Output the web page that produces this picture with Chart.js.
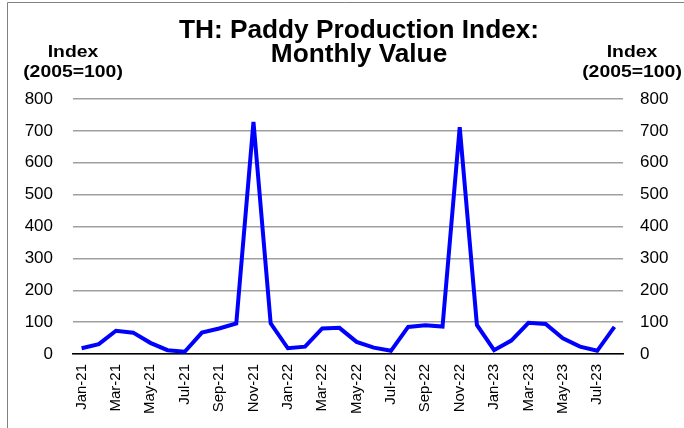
<!DOCTYPE html>
<html>
<head>
<meta charset="utf-8">
<script src="https://cdn.jsdelivr.net/npm/chart.js@4/dist/chart.umd.min.js"></script>
<style>
  html, body { margin: 0; padding: 0; background: #fff; }
  #wrap { width: 684px; height: 428px; position: relative; }
</style>
</head>
<body>
<div id="wrap"><canvas id="paddy-chart" width="684" height="428"></canvas></div>
<script>
const months = [
  'Jan-21', 'Feb-21', 'Mar-21', 'Apr-21', 'May-21', 'Jun-21', 'Jul-21', 'Aug-21',
  'Sep-21', 'Oct-21', 'Nov-21', 'Dec-21', 'Jan-22', 'Feb-22', 'Mar-22', 'Apr-22',
  'May-22', 'Jun-22', 'Jul-22', 'Aug-22', 'Sep-22', 'Oct-22', 'Nov-22', 'Dec-22',
  'Jan-23', 'Feb-23', 'Mar-23', 'Apr-23', 'May-23', 'Jun-23', 'Jul-23', 'Aug-23',
];
const paddyIndex = [
  18, 31, 73, 67, 35, 12, 7, 67,
  80, 96, 728, 96, 18, 23, 80, 82,
  38, 20, 10, 85, 90, 86, 712, 91,
  12, 42, 98, 94, 49, 23, 10, 85,
];
const titleLines = ['TH: Paddy Production Index:', 'Monthly Value'];
const axisLabel = ['Index', '(2005=100)'];

const FONT = "'Liberation Sans', Arial, sans-serif";

// text slightly widened, like the rest of the sheet
const wideText = (ctx, text, x, y, sx) => {
  ctx.save();
  ctx.translate(x, y);
  ctx.scale(sx, 1);
  ctx.fillText(text, 0, 0);
  ctx.restore();
};

// title, axis headers and the frame are painted straight onto the canvas
const decorations = {
  id: 'decorations',
  afterDraw(chart) {
    const { ctx } = chart;
    ctx.save();
    ctx.strokeStyle = '#808080';
    ctx.lineWidth = 1;
    ctx.beginPath();
    ctx.moveTo(7.5, 428);
    ctx.lineTo(7.5, 2.5);
    ctx.lineTo(684, 2.5);
    ctx.stroke();

    ctx.fillStyle = '#000';
    ctx.textAlign = 'center';
    ctx.textBaseline = 'alphabetic';
    ctx.font = `bold 25px ${FONT}`;
    wideText(ctx, titleLines[0], 359, 38, 1.05);
    wideText(ctx, titleLines[1], 359, 62, 1.05);

    ctx.font = `bold 17px ${FONT}`;
    [73, 632].forEach(x => {
      wideText(ctx, axisLabel[0], x, 57, 1.14);
      wideText(ctx, axisLabel[1], x, 77, 1.14);
    });
    ctx.restore();
  },
};

new Chart(document.getElementById('paddy-chart').getContext('2d'), {
  type: 'line',
  data: {
    labels: months,
    datasets: [
      {
        data: paddyIndex,
        borderColor: '#0000ff',
        borderWidth: 4,
        pointRadius: 0,
        tension: 0,
        fill: false,
      },
    ],
  },
  options: {
    responsive: false,
    animation: false,
    layout: { padding: { top: 99, left: 0, right: 0, bottom: 0 } },
    plugins: {
      legend: { display: false },
      title: { display: false },
      tooltip: { enabled: false },
    },
    scales: {
      x: {
        offset: true,
        grid: { display: false, drawTicks: false },
        border: { display: true, color: '#000', width: 1.5 },
        ticks: {
          autoSkip: false,
          maxRotation: 90,
          minRotation: 90,
          padding: 10,
          color: '#000',
          font: { family: FONT, size: 15 },
          callback: (value, idx) => (idx % 2 === 0 ? months[idx] : ''),
        },
        afterFit: scale => {
          scale.height = 74;
        },
      },
      y: {
        position: 'left',
        min: 0,
        max: 800,
        ticks: { stepSize: 100, padding: 20, color: '#000', font: { family: FONT, size: 17 } },
        grid: { color: '#a0a0a0', lineWidth: 1.5, drawTicks: false },
        border: { display: false },
        afterFit: scale => {
          scale.width = 73;
        },
      },
      y2: {
        position: 'right',
        min: 0,
        max: 800,
        ticks: { stepSize: 100, padding: 17, color: '#000', font: { family: FONT, size: 17 } },
        grid: { display: false, drawTicks: false },
        border: { display: false },
        afterFit: scale => {
          scale.width = 61;
        },
      },
    },
  },
  plugins: [decorations],
});
</script>
</body>
</html>
